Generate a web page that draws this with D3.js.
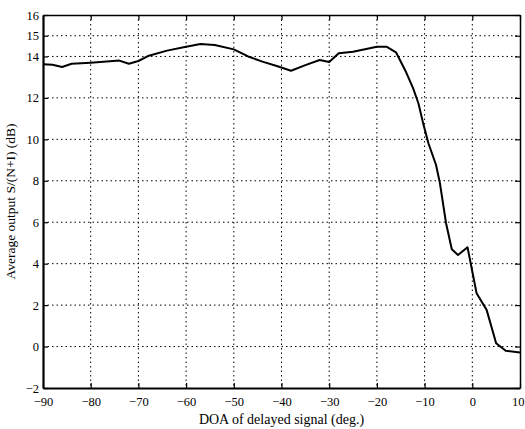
<!DOCTYPE html>
<html>
<head>
<meta charset="utf-8">
<script src="https://cdn.jsdelivr.net/npm/d3@7"></script>
<style>
	body { margin: 0; background: #fff; }
	svg { display: block; font-family: "Liberation Serif", "DejaVu Serif", serif; }
</style>
</head>
<body>
<div id="chart"></div>
<script>
// DOA of delayed signal (deg.) and average output S/(N+I) (dB)
var doa = [-90, -88, -86, -84, -80, -74, -72, -70, -68, -64, -60, -57, -54, -50, -47, -44, -41, -38, -35, -32,
	-30, -28, -25, -20, -18, -16, -14, -12.4, -11.3, -10.3, -9.2, -7.6, -6.8, -5.5, -4.3, -3, -1, 0.9, 3, 5, 7, 10];
var snr = [13.62, 13.6, 13.49, 13.65, 13.70, 13.80, 13.65, 13.78, 14.02, 14.28, 14.47, 14.6, 14.55, 14.34, 14.0, 13.75, 13.54, 13.31, 13.58, 13.83,
	13.73, 14.15, 14.23, 14.47, 14.47, 14.2, 13.3, 12.46, 11.74, 10.77, 9.81, 8.76, 7.9, 5.95, 4.7, 4.42, 4.79, 2.57, 1.77, 0.16, -0.2, -0.29];

var xTicks = [-90, -80, -70, -60, -50, -40, -30, -20, -10, 0, 10];
var yTicks = [-2, 0, 2, 4, 6, 8, 10, 12, 14, 15, 16];

var width = 525,
	height = 429,
	plotLeft = 43,
	plotRight = 520,
	plotTop = 15,
	plotBottom = 388;

var x = d3.scaleLinear().domain([-90, 10]).range([plotLeft, plotRight]);
var y = d3.scaleLinear().domain([-2, 16]).range([plotBottom, plotTop]);

var svg = d3.select("#chart")
	.append("svg")
	.attr("width", width)
	.attr("height", height);

// grid
var grid = svg.append("g")
	.attr("stroke", "#000")
	.attr("stroke-width", 1)
	.attr("stroke-dasharray", "1.5,3");
grid.selectAll("line.gx")
	.data(xTicks.slice(1, -1))
	.enter().append("line")
	.attr("x1", function(d){ return x(d); })
	.attr("x2", function(d){ return x(d); })
	.attr("y1", plotTop)
	.attr("y2", plotBottom);
grid.selectAll("line.gy")
	.data(yTicks.slice(1, -1))
	.enter().append("line")
	.attr("y1", function(d){ return y(d); })
	.attr("y2", function(d){ return y(d); })
	.attr("x1", plotLeft)
	.attr("x2", plotRight);

// axes (ticks pointing inward)
svg.append("g")
	.attr("transform", "translate(0," + plotTop + ")")
	.call(d3.axisTop(x).tickValues(xTicks).tickSizeInner(-5).tickSizeOuter(0).tickFormat(""));
svg.append("g")
	.attr("transform", "translate(" + plotRight + ",0)")
	.call(d3.axisRight(y).tickValues(yTicks).tickSizeInner(-5).tickSizeOuter(0).tickFormat(""));
var gBottom = svg.append("g")
	.attr("transform", "translate(0," + plotBottom + ")")
	.call(d3.axisBottom(x).tickValues(xTicks).tickSizeInner(-5).tickSizeOuter(0).tickPadding(9));
var gLeft = svg.append("g")
	.attr("transform", "translate(" + plotLeft + ",0)")
	.call(d3.axisLeft(y).tickValues(yTicks).tickSizeInner(-5).tickSizeOuter(0).tickPadding(4));

svg.selectAll(".domain").attr("stroke", "#000").attr("stroke-width", 1.5);
gLeft.select(".domain").attr("stroke-width", 2.2);
gBottom.select(".domain").attr("stroke-width", 2);
svg.selectAll(".tick line").attr("stroke", "#000").attr("stroke-width", 1.2);
svg.selectAll(".tick text")
	.attr("fill", "#000")
	.style("font-family", "'Liberation Serif', serif")
	.style("font-size", "12.5px");
// last x label sits at the window edge, keep it inside
gBottom.selectAll(".tick text")
	.filter(function(d){ return d === 10; })
	.attr("text-anchor", "end")
	.attr("dx", 4);

// curve
var line = d3.line()
	.x(function(d, i){ return x(doa[i]); })
	.y(function(d){ return y(d); });
svg.append("path")
	.datum(snr)
	.attr("fill", "none")
	.attr("stroke", "#000")
	.attr("stroke-width", 2)
	.attr("stroke-linejoin", "round")
	.attr("d", line);

// labels
svg.append("text")
	.attr("x", (plotLeft + plotRight) / 2)
	.attr("y", 424)
	.attr("text-anchor", "middle")
	.style("font-size", "14px")
	.text("DOA of delayed signal (deg.)");
svg.append("text")
	.attr("transform", "translate(15," + ((plotTop + plotBottom) / 2) + ") rotate(-90)")
	.attr("text-anchor", "middle")
	.style("font-size", "13.5px")
	.text("Average output S/(N+I) (dB)");
</script>
</body>
</html>
